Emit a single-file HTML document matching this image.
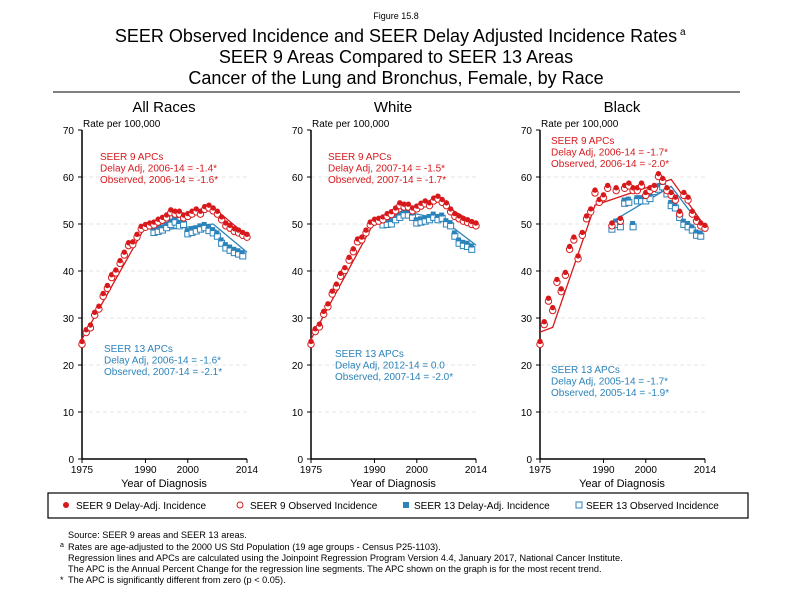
<!DOCTYPE html>
<html><head><meta charset="utf-8"><style>
body{margin:0;background:#fff;}
svg{display:block;font-family:"Liberation Sans",Arial,sans-serif;}
</style></head><body>
<svg id="s" width="792" height="612" xmlns="http://www.w3.org/2000/svg">
<text x="396" y="19" font-size="9" text-anchor="middle">Figure 15.8</text>
<text x="396" y="42" font-size="18" text-anchor="middle">SEER Observed Incidence and SEER Delay Adjusted Incidence Rates</text>
<text x="680" y="35" font-size="10">a</text>
<text x="396" y="63" font-size="18" text-anchor="middle">SEER 9 Areas Compared to SEER 13 Areas</text>
<text x="396" y="84" font-size="18" text-anchor="middle">Cancer of the Lung and Bronchus, Female, by Race</text>
<line x1="53" y1="92" x2="740" y2="92" stroke="#000" stroke-width="1"/>
<rect x="48" y="493" width="700" height="25" fill="none" stroke="#000" stroke-width="1.2"/>
<g font-size="10">
<circle cx="66" cy="505" r="3" fill="#d7191c"/><text x="76" y="509">SEER 9 Delay-Adj. Incidence</text>
<circle cx="240" cy="505" r="3" fill="none" stroke="#d7191c"/><text x="250" y="509">SEER 9 Observed Incidence</text>
<rect x="403" y="502" width="6" height="6" fill="#2b83ba"/><text x="414" y="509">SEER 13 Delay-Adj. Incidence</text>
<rect x="576" y="502" width="6" height="6" fill="none" stroke="#2b83ba"/><text x="586" y="509">SEER 13 Observed Incidence</text>
</g>
<g font-size="9.2">
<text x="68" y="538">Source: SEER 9 areas and SEER 13 areas.</text>
<text x="60" y="547" font-size="7">a</text><text x="68" y="550">Rates are age-adjusted to the 2000 US Std Population (19 age groups - Census P25-1103).</text>
<text x="68" y="561">Regression lines and APCs are calculated using the Joinpoint Regression Program Version 4.4, January 2017, National Cancer Institute.</text>
<text x="68" y="572">The APC is the Annual Percent Change for the regression line segments. The APC shown on the graph is for the most recent trend.</text>
<text x="60" y="583">*</text><text x="68" y="583">The APC is significantly different from zero (p &lt; 0.05).</text>
</g>
<g id="p"></g>
</svg>
<script>
const NS="http://www.w3.org/2000/svg",P=document.getElementById("p");
function el(t,a,txt){const e=document.createElementNS(NS,t);for(const k in a)e.setAttribute(k,a[k]);if(txt!=null)e.textContent=txt;P.appendChild(e);return e;}
const R="#d7191c",B="#2b83ba";
const panels=[
{x0:82,title:"All Races",
s9:[24.8,27.3,28.3,31,32.3,35,36.7,39,40,42,43.8,45.8,46,47.6,49.3,49.7,50,50.2,50.8,51.2,51.7,52.8,52.5,52.5,51.7,52,52.5,53,52.5,53.5,53.8,53.2,52.5,51.3,50,49.5,48.8,48.5,48,47.6],
s13:[48.8,49,49.3,49.8,50.5,51,50.2,50.5,48.5,48.8,49.1,49.5,49.8,49.2,48.7,48,46.5,45.5,45,44.5,44.2,43.8],
l9:[[1975,25.5],[1990,49.5],[2006,53.5],[2014,47.5]],l13:[[1992,48.5],[2006,50],[2014,44]],
t9:["SEER 9 APCs","Delay Adj, 2006-14 = -1.4*","Observed, 2006-14 = -1.6*"],t13:["SEER 13 APCs","Delay Adj, 2006-14 = -1.6*","Observed, 2007-14 = -2.1*"],ty9:160,ty13:352,tx:100,tx13:104},
{x0:311,title:"White",
s9:[24.8,27.5,28.5,31.2,32.8,35.5,37,39.3,40.5,42.7,44.5,46.6,47,48.5,50.2,50.8,51,51.3,52,52.4,53.2,54.3,54,54,53.2,53.6,54.2,54.7,54.3,55.3,55.7,55,54.3,53,52,51.5,51,50.7,50.3,50],
s13:[50.4,50.5,50.6,51.5,52,52.5,52.5,52,50.8,51,51.2,51.5,52,51.5,51.8,50.6,50.2,48,46.5,46,45.8,45.2],
l9:[[1975,25.5],[1990,50.5],[2004,55.3],[2014,50]],l13:[[1992,49.8],[1998,52.5],[2006,51],[2014,45.5]],
t9:["SEER 9 APCs","Delay Adj, 2007-14 = -1.5*","Observed, 2007-14 = -1.7*"],t13:["SEER 13 APCs","Delay Adj, 2012-14 = 0.0","Observed, 2007-14 = -2.0*"],ty9:160,ty13:357,tx:328,tx13:335},
{x0:540,title:"Black",
s9:[24.8,29,34,32,38,36,39.5,45,47,43,48,51.5,53,57,55,56,58,50,57.5,51,58,58.5,57.5,57.5,58.5,56.5,57.5,58,60.5,59.5,57.5,56.5,55.5,52.5,56.5,55.5,52.5,51,50,49.5],
s13:[49.5,50.5,50,55,55.2,50,55.5,55.5,55.5,56,57.5,58,58.5,57,54.5,54,52,50.5,50,49.3,48.2,48],
l9:[[1975,27],[1978,28],[1988,54],[2006,59.5],[2014,49.5]],l13:[[1992,50.5],[2006,58],[2014,48.5]],
t9:["SEER 9 APCs","Delay Adj, 2006-14 = -1.7*","Observed, 2006-14 = -2.0*"],t13:["SEER 13 APCs","Delay Adj, 2005-14 = -1.7*","Observed, 2005-14 = -1.9*"],ty9:144,ty13:373,tx:551,tx13:551}];
const Y=v=>459-v*4.7;
panels.forEach(p=>{
 const X=yr=>p.x0+(yr-1975)*165/39;
 el("text",{x:p.x0+82,y:112,"font-size":15,"text-anchor":"middle"},p.title);
 el("text",{x:p.x0+1,y:127,"font-size":10},"Rate per 100,000");
 for(let v=0;v<=70;v+=10){
  if(v>0&&v<70)el("line",{x1:p.x0,x2:p.x0+168,y1:Y(v),y2:Y(v),stroke:"#ddd","stroke-dasharray":"4,3","stroke-width":0.8});
  el("text",{x:p.x0-8,y:Y(v)+4,"font-size":10,"text-anchor":"end"},v);
  el("line",{x1:p.x0-4,x2:p.x0,y1:Y(v),y2:Y(v),stroke:"#000"});
 }
 el("line",{x1:p.x0,x2:p.x0,y1:Y(70),y2:Y(0),stroke:"#000","stroke-width":1.5});
 el("line",{x1:p.x0,x2:X(2014),y1:Y(0),y2:Y(0),stroke:"#000","stroke-width":1.5});
 [1975,1990,2000,2014].forEach(yr=>{el("line",{x1:X(yr),x2:X(yr),y1:Y(0),y2:Y(0)+4,stroke:"#000"});el("text",{x:X(yr),y:473,"font-size":10,"text-anchor":"middle"},yr);});
 el("text",{x:p.x0+82,y:487,"font-size":11,"text-anchor":"middle"},"Year of Diagnosis");
 el("polyline",{points:p.l13.map(q=>X(q[0])+","+Y(q[1])).join(" "),fill:"none",stroke:B,"stroke-width":1.3});
 el("polyline",{points:p.l9.map(q=>X(q[0])+","+Y(q[1])).join(" "),fill:"none",stroke:R,"stroke-width":1.3});
 p.s13.forEach((v,i)=>{const x=X(1992+i);el("rect",{x:x-3,y:Y(v-0.6)-3,width:6,height:6,fill:"#fff",stroke:B,"stroke-width":1});el("rect",{x:x-3,y:Y(v)-3,width:5,height:4,fill:B});});
 p.s9.forEach((v,i)=>{const x=X(1975+i);el("circle",{cx:x,cy:Y(v-0.4),r:3.2,fill:"#fff",stroke:R,"stroke-width":1});el("circle",{cx:x,cy:Y(v)-1,r:2.7,fill:R});});
 p.t9.forEach((t,i)=>el("text",{x:p.tx,y:p.ty9+i*11.5,"font-size":10,fill:R},t));
 p.t13.forEach((t,i)=>el("text",{x:p.tx13,y:p.ty13+i*11.5,"font-size":10,fill:B},t));
});
</script>
</body></html>
